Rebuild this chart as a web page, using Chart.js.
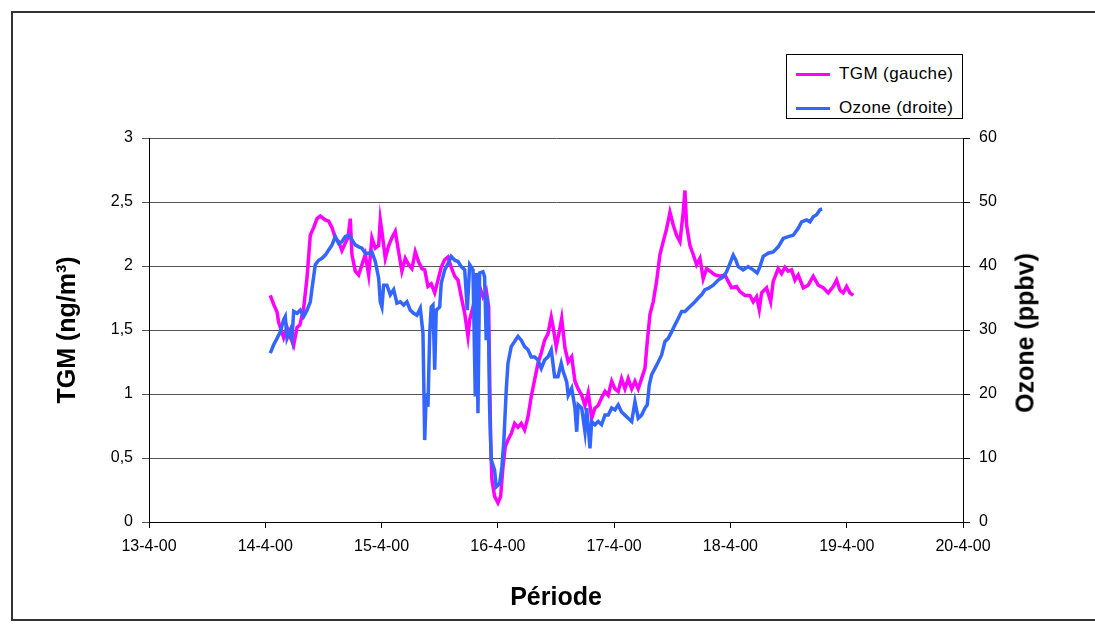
<!DOCTYPE html>
<html><head><meta charset="utf-8">
<script src="https://cdn.jsdelivr.net/npm/chart.js@4"></script>
<style>
html,body{margin:0;padding:0;background:#fff;}
#wrap{position:relative;width:1095px;height:635px;overflow:hidden;font-family:"Liberation Sans",Arial,sans-serif;}
#frame{position:absolute;left:11px;top:11px;width:1100px;height:610px;border:2px solid #333;box-sizing:border-box;}
#c{position:absolute;left:0;top:0;}
#legend{position:absolute;left:786px;top:54px;width:177px;height:65px;border:1.5px solid #000;box-sizing:border-box;background:#fff;}
.item{position:absolute;left:0;height:20px;width:175px;}
.item .ln{position:absolute;left:9px;top:9px;width:34px;height:3px;}
.item .tx{position:absolute;left:52px;top:0;font-size:17px;letter-spacing:0.4px;line-height:20px;color:#000;white-space:nowrap;}
#ozTitle{position:absolute;left:1025px;top:333px;transform:translate(-50%,-50%) rotate(-90deg);font-weight:bold;font-size:25px;color:#000;white-space:nowrap;}
</style>
</head><body>
<div id="wrap">
  <div id="frame"></div>
  <canvas id="c" width="1095" height="635"></canvas>
  <div id="legend">
    <div class="item" style="top:9px"><div class="ln" style="background:#FF00FF"></div><div class="tx">TGM (gauche)</div></div>
    <div class="item" style="top:43px"><div class="ln" style="background:#3366FF"></div><div class="tx">Ozone (droite)</div></div>
  </div>
  <div id="ozTitle">Ozone (ppbv)</div>
</div>
<script>
// Tick labels for the date axis (day of April 2000)
const xTickLabels = ["13-4-00","14-4-00","15-4-00","16-4-00","17-4-00","18-4-00","19-4-00","20-4-00"];
const xTickDays = [13,14,15,16,17,18,19,20];

// TGM (ng/m3), left axis
const tgmDays = [14.043,14.072,14.101,14.115,14.158,14.187,14.212,14.244,14.273,14.298,
14.330,14.359,14.387,14.416,14.445,14.473,14.516,14.545,14.574,14.602,
14.631,14.659,14.688,14.711,14.731,14.745,14.774,14.803,14.831,14.860,
14.889,14.917,14.946,14.975,14.989,15.003,15.032,15.061,15.089,15.118,
15.147,15.175,15.204,15.233,15.261,15.290,15.319,15.347,15.371,15.399,
15.427,15.457,15.485,15.513,15.543,15.571,15.599,15.629,15.657,15.685,
15.715,15.743,15.758,15.786,15.814,15.843,15.872,15.900,15.921,15.929,
15.938,15.949,15.972,16.001,16.024,16.044,16.064,16.087,16.115,16.144,
16.173,16.201,16.230,16.259,16.287,16.316,16.345,16.373,16.402,16.431,
16.459,16.474,16.502,16.531,16.549,16.577,16.605,16.635,16.663,16.691,
16.721,16.749,16.777,16.807,16.835,16.863,16.892,16.921,16.949,16.979,
17.007,17.035,17.064,17.093,17.121,17.151,17.179,17.207,17.236,17.265,
17.285,17.308,17.336,17.365,17.394,17.422,17.451,17.480,17.508,17.537,
17.566,17.594,17.609,17.623,17.652,17.680,17.709,17.738,17.766,17.795,
17.824,17.867,17.910,17.953,17.981,18.010,18.053,18.082,18.125,18.168,
18.196,18.225,18.248,18.268,18.311,18.346,18.368,18.411,18.440,18.469,
18.497,18.526,18.555,18.583,18.626,18.669,18.712,18.755,18.798,18.841,
18.884,18.913,18.942,18.970,18.999,19.027,19.056];
const tgmValues = [1.77,1.70,1.64,1.56,1.44,1.52,1.45,1.38,1.52,1.54,
1.67,1.91,2.24,2.30,2.37,2.39,2.36,2.35,2.30,2.22,
2.19,2.12,2.18,2.22,2.37,2.09,1.96,1.93,2.01,2.09,
1.93,2.22,2.14,2.16,2.36,2.27,2.06,2.16,2.22,2.27,
2.11,1.96,2.06,2.01,1.98,2.11,2.03,1.98,1.97,1.84,
1.86,1.79,1.89,1.99,2.05,2.07,1.99,1.92,1.89,1.76,
1.63,1.45,1.58,1.68,1.79,1.84,1.76,1.81,1.68,1.16,
0.64,0.33,0.20,0.15,0.20,0.43,0.59,0.64,0.69,0.77,
0.74,0.77,0.72,0.82,0.98,1.11,1.24,1.32,1.42,1.47,
1.60,1.53,1.37,1.50,1.59,1.36,1.25,1.29,1.10,1.04,
0.99,0.91,1.01,0.81,0.89,0.91,0.97,1.02,0.99,1.10,
1.04,1.02,1.12,1.04,1.12,1.04,1.10,1.04,1.12,1.20,
1.41,1.62,1.72,1.88,2.09,2.19,2.29,2.42,2.32,2.24,
2.19,2.42,2.59,2.32,2.16,2.09,2.01,2.06,1.90,1.98,
1.96,1.93,1.92,1.93,1.88,1.83,1.84,1.80,1.77,1.77,
1.72,1.76,1.66,1.79,1.83,1.72,1.88,1.98,1.94,1.99,
1.96,1.97,1.89,1.93,1.83,1.85,1.92,1.85,1.83,1.79,
1.84,1.89,1.81,1.79,1.84,1.79,1.77];

// Ozone (ppbv), right axis
const ozoneDays = [14.043,14.072,14.101,14.129,14.158,14.172,14.187,14.215,14.230,14.244,
14.273,14.301,14.330,14.359,14.387,14.402,14.430,14.459,14.488,14.516,
14.545,14.574,14.602,14.631,14.659,14.688,14.717,14.745,14.774,14.803,
14.831,14.860,14.889,14.917,14.946,14.975,14.989,15.003,15.018,15.046,
15.075,15.104,15.132,15.161,15.190,15.218,15.247,15.276,15.304,15.333,
15.356,15.371,15.384,15.399,15.414,15.427,15.442,15.457,15.470,15.500,
15.513,15.543,15.571,15.599,15.629,15.657,15.685,15.715,15.737,15.758,
15.786,15.806,15.814,15.829,15.843,15.872,15.886,15.900,15.909,15.921,
15.929,15.943,15.972,15.986,16.015,16.035,16.052,16.072,16.087,16.115,
16.144,16.173,16.201,16.230,16.259,16.287,16.316,16.345,16.373,16.402,
16.431,16.459,16.488,16.517,16.545,16.562,16.592,16.605,16.635,16.663,
16.678,16.691,16.721,16.749,16.764,16.792,16.807,16.835,16.863,16.892,
16.921,16.949,16.979,17.007,17.035,17.064,17.093,17.121,17.151,17.179,
17.207,17.236,17.265,17.285,17.302,17.322,17.351,17.379,17.408,17.437,
17.465,17.494,17.523,17.551,17.580,17.609,17.637,17.666,17.695,17.723,
17.752,17.781,17.809,17.852,17.895,17.938,17.967,17.996,18.024,18.047,
18.067,18.110,18.153,18.196,18.230,18.254,18.282,18.325,18.368,18.411,
18.454,18.497,18.540,18.583,18.612,18.655,18.684,18.712,18.741,18.770,
18.789];
const ozoneValues = [26.4,27.7,28.7,29.7,31.6,32.1,28.7,30.0,28.7,32.9,
32.6,33.1,32.1,33.1,34.4,36.5,40.2,40.9,41.2,41.7,
42.5,43.3,44.6,43.5,43.8,44.6,44.8,44.1,43.3,43.0,
42.8,42.0,42.0,42.2,40.7,38.1,34.4,33.6,37.0,37.0,
35.5,36.3,34.2,34.4,33.9,34.4,33.1,32.6,32.3,33.4,
29.5,12.8,20.1,18.0,29.5,33.6,33.9,23.8,33.1,33.6,
37.3,39.4,40.4,41.5,40.9,40.7,39.9,39.4,33.1,40.2,
39.4,19.6,38.9,17.0,38.9,39.1,38.3,28.4,35.2,28.4,
18.0,9.7,8.1,5.5,6.0,8.6,12.8,20.6,24.8,27.4,
28.2,29.0,28.4,27.4,26.9,25.8,25.8,25.3,24.0,25.3,
25.8,26.9,22.7,22.7,24.8,23.5,21.9,19.8,20.9,17.8,
14.1,18.3,17.8,14.1,17.8,11.5,15.7,15.2,15.7,15.2,
16.7,16.7,17.8,17.5,18.3,17.2,16.7,16.2,15.7,18.8,
16.2,16.7,17.8,18.3,21.4,23.0,24.0,25.0,26.1,28.2,
28.7,29.7,30.8,31.8,32.9,32.9,33.4,33.9,34.4,35.0,
35.5,36.3,36.5,37.0,37.8,38.3,39.1,40.4,41.7,40.9,
39.9,39.4,39.9,39.4,38.9,39.9,41.5,42.0,42.2,43.0,
44.3,44.6,44.8,45.9,46.9,47.2,46.9,47.7,48.0,48.8,
48.9];

const FONT = '"Liberation Sans", Arial, sans-serif';
const comma = v => String(v).replace('.', ',');

new Chart(document.getElementById('c'), {
  type: 'line',
  data: {
    datasets: [
      {
        label: 'TGM (gauche)',
        data: tgmDays.map((d, i) => ({x: d, y: tgmValues[i]})),
        yAxisID: 'y',
        borderColor: '#FF00FF',
        borderWidth: 3.5,
        pointRadius: 0,
        tension: 0,
        fill: false,
        order: 2
      },
      {
        label: 'Ozone (droite)',
        data: ozoneDays.map((d, i) => ({x: d, y: ozoneValues[i]})),
        yAxisID: 'y2',
        borderColor: '#3366FF',
        borderWidth: 3.5,
        pointRadius: 0,
        tension: 0,
        fill: false,
        order: 1
      }
    ]
  },
  options: {
    responsive: false,
    animation: false,
    devicePixelRatio: 1,
    layout: { padding: { left: 49, top: 138, right: 0, bottom: 18 } },
    plugins: { legend: { display: false }, tooltip: { enabled: false } },
    scales: {
      x: {
        type: 'linear',
        min: xTickDays[0],
        max: xTickDays[xTickDays.length - 1],
        afterBuildTicks: s => { s.ticks = xTickDays.map(v => ({value: v})); },
        afterFit: s => { s.height = 95; },
        ticks: {
          autoSkip: false, maxRotation: 0, padding: 9,
          color: '#000', font: { family: FONT, size: 16 },
          callback: (v, i) => xTickLabels[i]
        },
        grid: { drawOnChartArea: false, tickLength: 6, color: '#000', lineWidth: 1 },
        border: { color: '#000', width: 1 },
        title: { display: true, text: 'Période', color: '#000', font: { family: FONT, size: 25, weight: 'bold' }, padding: { top: 4, bottom: 4 } }
      },
      y: {
        position: 'left',
        min: 0, max: 3,
        afterFit: s => { s.width = 100; },
        ticks: { stepSize: 0.5, padding: 9, color: '#000', font: { family: FONT, size: 16 }, callback: v => comma(v) },
        grid: { drawOnChartArea: true, tickLength: 7, color: '#555', lineWidth: 1 },
        border: { color: '#000', width: 1 },
        title: { display: true, text: 'TGM (ng/m³)', color: '#000', font: { family: FONT, size: 25, weight: 'bold' }, padding: { top: 4, bottom: 4 } }
      },
      y2: {
        position: 'right',
        min: 0, max: 60,
        afterFit: s => { s.width = 132; },
        ticks: { stepSize: 10, padding: 9, color: '#000', font: { family: FONT, size: 16 } },
        grid: { drawOnChartArea: false, tickLength: 7, color: '#000', lineWidth: 1 },
        border: { color: '#000', width: 1 }
      }
    }
  }
});
</script>
</body></html>
